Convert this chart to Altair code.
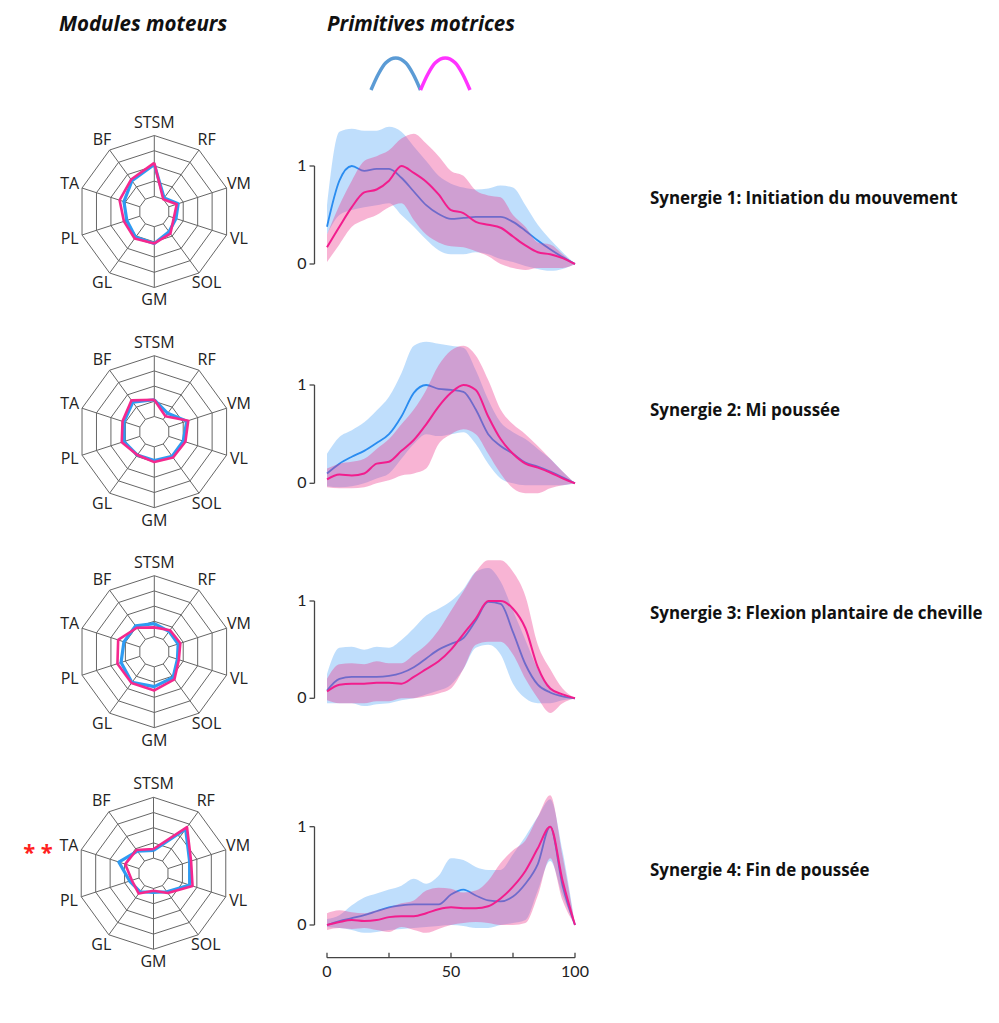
import altair as alt
import pandas as pd

# ---------------- data ----------------
MUSCLES = ["STSM", "RF", "VM", "VL", "SOL", "GM", "GL", "PL", "TA", "BF"]

RADAR_BLUE = [
    [0.62, 0.22, 0.33, 0.30, 0.33, 0.42, 0.42, 0.38, 0.42, 0.50],
    [0.42, 0.30, 0.45, 0.40, 0.40, 0.38, 0.38, 0.42, 0.42, 0.48],
    [0.37, 0.33, 0.33, 0.32, 0.42, 0.46, 0.50, 0.46, 0.42, 0.42],
    [0.30, 0.72, 0.50, 0.50, 0.30, 0.25, 0.30, 0.33, 0.48, 0.36],
]
RADAR_PINK = [
    [0.64, 0.20, 0.31, 0.27, 0.36, 0.42, 0.44, 0.42, 0.48, 0.52],
    [0.42, 0.25, 0.47, 0.43, 0.42, 0.40, 0.38, 0.45, 0.44, 0.51],
    [0.32, 0.35, 0.36, 0.34, 0.45, 0.51, 0.51, 0.51, 0.50, 0.39],
    [0.32, 0.75, 0.52, 0.54, 0.32, 0.23, 0.33, 0.30, 0.39, 0.38],
]
RING_LEVELS = [0.2, 0.4, 0.6, 0.8, 1.0]

T = [0, 5, 10, 15, 20, 25, 30, 35, 40, 45, 50, 55, 60, 65, 70, 75, 80, 85, 90, 95, 100]

BLUE_MEAN = [
    [0.38, 0.85, 1.0, 0.95, 0.97, 0.97, 0.88, 0.74, 0.6, 0.51, 0.46, 0.47, 0.48, 0.48, 0.48, 0.43, 0.34, 0.24, 0.15, 0.07, 0.0],
    [0.1, 0.2, 0.27, 0.33, 0.41, 0.5, 0.68, 0.92, 1.0, 0.96, 0.95, 0.93, 0.75, 0.5, 0.38, 0.3, 0.21, 0.17, 0.12, 0.06, 0.0],
    [0.08, 0.2, 0.22, 0.22, 0.22, 0.23, 0.26, 0.32, 0.41, 0.5, 0.56, 0.62, 0.8, 0.99, 0.97, 0.68, 0.35, 0.14, 0.06, 0.02, 0.0],
    [0.0, 0.04, 0.07, 0.1, 0.14, 0.18, 0.2, 0.21, 0.21, 0.21, 0.31, 0.36, 0.3, 0.25, 0.24, 0.29, 0.42, 0.62, 1.0, 0.4, 0.0],
]
BLUE_HI = [
    [0.6, 1.35, 1.38, 1.36, 1.36, 1.4, 1.35, 1.2, 1.05, 0.9, 0.82, 0.78, 0.76, 0.77, 0.8, 0.78, 0.6, 0.4, 0.25, 0.12, 0.0],
    [0.3, 0.47, 0.54, 0.62, 0.74, 0.88, 1.12, 1.4, 1.44, 1.42, 1.4, 1.38, 1.15, 0.85, 0.62, 0.52, 0.45, 0.35, 0.25, 0.12, 0.0],
    [0.25, 0.52, 0.53, 0.5, 0.53, 0.52, 0.6, 0.72, 0.85, 0.92, 1.0, 1.12, 1.3, 1.34, 1.2, 0.9, 0.6, 0.3, 0.12, 0.03, 0.0],
    [0.06, 0.1, 0.2, 0.28, 0.32, 0.36, 0.4, 0.47, 0.42, 0.5, 0.68, 0.66, 0.59, 0.56, 0.56, 0.72, 0.9, 1.1, 1.28, 0.75, 0.0],
]
BLUE_LO = [
    [0.3, 0.5, 0.55, 0.58, 0.6, 0.62, 0.5, 0.38, 0.25, 0.14, 0.1, 0.1, 0.12, 0.1, 0.05, 0.02, -0.02, -0.05, -0.07, -0.05, 0.0],
    [-0.03, -0.04, -0.03, 0.0, 0.05, 0.1, 0.25, 0.4, 0.5, 0.48, 0.5, 0.52, 0.4, 0.2, 0.05, 0.0, -0.02, -0.02, -0.02, -0.02, 0.0],
    [-0.05, -0.05, -0.05, -0.08, -0.06, -0.05, -0.02, 0.0, 0.04, 0.08, 0.14, 0.3, 0.52, 0.55, 0.45, 0.15, 0.0, -0.05, -0.05, -0.02, 0.0],
    [-0.02, -0.03, -0.05, -0.08, -0.07, -0.05, -0.04, -0.03, -0.02, -0.01, 0.0, -0.01, -0.03, -0.03, 0.0, 0.02, 0.05, 0.35, 0.65, 0.3, 0.0],
]
PINK_MEAN = [
    [0.17, 0.38, 0.58, 0.73, 0.76, 0.85, 1.0, 0.93, 0.84, 0.71, 0.55, 0.52, 0.43, 0.4, 0.37, 0.28, 0.19, 0.12, 0.1, 0.06, 0.0],
    [0.04, 0.09, 0.08, 0.1, 0.2, 0.22, 0.33, 0.44, 0.6, 0.78, 0.92, 1.0, 0.95, 0.68, 0.45, 0.3, 0.2, 0.16, 0.11, 0.05, 0.0],
    [0.07, 0.14, 0.15, 0.15, 0.16, 0.16, 0.15, 0.22, 0.3, 0.38, 0.5, 0.66, 0.82, 1.0, 1.0, 0.92, 0.72, 0.32, 0.1, 0.04, 0.0],
    [0.0, 0.03, 0.05, 0.04, 0.05, 0.08, 0.09, 0.09, 0.12, 0.16, 0.18, 0.17, 0.17, 0.19, 0.27, 0.39, 0.55, 0.78, 1.0, 0.45, 0.0],
]
PINK_HI = [
    [0.3, 0.6, 0.85, 1.05, 1.1, 1.16, 1.28, 1.33, 1.23, 1.1, 0.95, 0.9, 0.75, 0.7, 0.68, 0.5, 0.38, 0.22, 0.2, 0.1, 0.0],
    [0.15, 0.2, 0.22, 0.25, 0.35, 0.45, 0.6, 0.75, 0.95, 1.2, 1.35, 1.4, 1.3, 1.05, 0.75, 0.6, 0.5, 0.38, 0.25, 0.12, 0.0],
    [0.2, 0.35, 0.36, 0.35, 0.38, 0.36, 0.36, 0.45, 0.55, 0.7, 0.9, 1.1, 1.3, 1.42, 1.42, 1.3, 1.05, 0.55, 0.3, 0.1, 0.0],
    [0.12, 0.15, 0.13, 0.12, 0.15, 0.18, 0.22, 0.25, 0.35, 0.38, 0.37, 0.33, 0.35, 0.45, 0.63, 0.76, 0.86, 1.1, 1.32, 0.7, 0.0],
]
PINK_LO = [
    [0.02, 0.2, 0.38, 0.45, 0.5, 0.58, 0.62, 0.45, 0.3, 0.22, 0.18, 0.17, 0.13, 0.08, 0.0, -0.04, -0.06, -0.04, -0.04, -0.04, 0.0],
    [-0.04, -0.05, -0.05, -0.04, 0.0, 0.03, 0.08, 0.1, 0.15, 0.4, 0.5, 0.55, 0.5, 0.3, 0.1, -0.05, -0.1, -0.1, -0.05, -0.02, 0.0],
    [-0.02, -0.05, -0.05, -0.05, -0.03, -0.03, 0.0, 0.0, 0.02, 0.05, 0.1, 0.3, 0.55, 0.58, 0.58, 0.45, 0.2, 0.0, -0.15, -0.05, 0.0],
    [-0.05, -0.03, -0.04, -0.03, -0.05, -0.07, -0.02, -0.05, -0.08, -0.04, 0.0, 0.02, 0.03, 0.02, 0.0, 0.0, 0.02, 0.3, 0.68, 0.25, 0.0],
]

SYN_LABELS = [
    "Synergie 1: Initiation du mouvement",
    "Synergie 2: Mi poussée",
    "Synergie 3: Flexion plantaire de cheville",
    "Synergie 4: Fin de poussée",
]
X_TICKS = [0, 25, 50, 75, 100]
X_TICK_LABELS = [0, 50, 100]
Y_TICK_LABELS = [0, 1]

LEGEND_ARC_X = [0.0, 0.15, 0.3, 0.5, 0.7, 0.85, 1.0]
LEGEND_ARC_Y = [0.0, 0.5, 0.85, 1.0, 0.85, 0.5, 0.0]

# ---------------- layout / style ----------------
W, H = 983, 1000
RADAR_CX = [146.3, 146.3, 146.3, 145.5]
RADAR_CY = [203.5, 423.7, 643.7, 865.3]
RADAR_R = 76
LABEL_R = 1.17
LX0, LX1 = 319, 567
Y0 = [256, 475.3, 690.3, 917]
Y1 = [158, 377, 593, 818.7]
BRACKET_X = 306.5
SYN_Y = [191, 403, 606, 863]
SYN_X = 642
XAXIS_Y = 949.7

GRID = "#666666"
BLUE_LINE = "#2a8cf0"
PINK_LINE = "#f21d8d"
BLUE_FILL = "#3d9cf5"
PINK_FILL = "#eb2f88"
RADAR_BLUE_C = "#2e9bf2"
RADAR_PINK_C = "#f5288e"
FONT = "Open Sans"
NUMFONT = "Lato"
TXT = "#222222"


def lin(domain, rng):
    return alt.Scale(domain=domain, range=rng, nice=False, zero=False)


def radar_layers(k):
    cx, cy, R = RADAR_CX[k], RADAR_CY[k], RADAR_R
    xs = lin([-1, 1], [cx - R, cx + R])
    ys = lin([-1, 1], [cy + R, cy - R])
    X = alt.X("px:Q", scale=xs, axis=None)
    Y = alt.Y("py:Q", scale=ys, axis=None)
    ang = "datum.i*2*PI/10"

    rings = pd.DataFrame([{"ring": r, "i": i} for r in RING_LEVELS for i in range(11)])
    ring_layer = (
        alt.Chart(rings)
        .transform_calculate(px=f"datum.ring*sin({ang})", py=f"datum.ring*cos({ang})")
        .mark_line(color=GRID, strokeWidth=1)
        .encode(x=X, y=Y, detail="ring:N", order=alt.Order("i:Q"))
    )
    spokes = pd.DataFrame({"i": list(range(10))})
    spoke_layer = (
        alt.Chart(spokes)
        .transform_calculate(
            px=f"{RING_LEVELS[0]}*sin({ang})", py=f"{RING_LEVELS[0]}*cos({ang})",
            px2=f"sin({ang})", py2=f"cos({ang})",
        )
        .mark_rule(color=GRID, strokeWidth=1)
        .encode(x=X, y=Y, x2="px2:Q", y2="py2:Q")
    )
    labs = pd.DataFrame({"i": list(range(10)), "m": MUSCLES})
    label_layer = (
        alt.Chart(labs)
        .transform_calculate(px=f"{LABEL_R}*sin({ang})", py=f"{LABEL_R}*cos({ang})")
        .mark_text(font=FONT, fontSize=16, color=TXT, align="center", baseline="middle")
        .encode(x=X, y=Y, text="m:N")
    )
    out = [ring_layer, spoke_layer, label_layer]
    for vals, col, sw in ((RADAR_BLUE[k], RADAR_BLUE_C, 3.2), (RADAR_PINK[k], RADAR_PINK_C, 2.6)):
        d = pd.DataFrame({"i": list(range(11)), "v": vals + [vals[0]]})
        out.append(
            alt.Chart(d)
            .transform_calculate(px=f"datum.v*sin({ang})", py=f"datum.v*cos({ang})")
            .mark_line(color=col, strokeWidth=sw, strokeJoin="round")
            .encode(x=X, y=Y, order=alt.Order("i:Q"))
        )
    return out


def prim_layers(k):
    xs = lin([0, 100], [LX0, LX1])
    ys = lin([0, 1], [Y0[k], Y1[k]])
    df = pd.DataFrame({
        "t": T,
        "bm": BLUE_MEAN[k], "bh": BLUE_HI[k], "bl": BLUE_LO[k],
        "pm": PINK_MEAN[k], "ph": PINK_HI[k], "pl": PINK_LO[k],
    })
    base = alt.Chart(df)
    X = alt.X("t:Q", scale=xs, axis=None)
    out = [
        base.mark_area(interpolate="monotone", color=BLUE_FILL, opacity=0.33).encode(
            x=X, y=alt.Y("bl:Q", scale=ys, axis=None), y2="bh:Q"),
        base.mark_line(interpolate="monotone", color=BLUE_LINE, strokeWidth=1.8).encode(
            x=X, y=alt.Y("bm:Q", scale=ys, axis=None)),
        base.mark_area(interpolate="monotone", color=PINK_FILL, opacity=0.36).encode(
            x=X, y=alt.Y("pl:Q", scale=ys, axis=None), y2="ph:Q"),
        base.mark_line(interpolate="monotone", color=PINK_LINE, strokeWidth=2).encode(
            x=X, y=alt.Y("pm:Q", scale=ys, axis=None)),
    ]
    # y "bracket" axis from 0 to 1
    out.append(
        alt.Chart(pd.DataFrame({"a": [0], "b": [1]}))
        .mark_rule(color="#444444", strokeWidth=1.3)
        .encode(x=alt.value(BRACKET_X), y=alt.Y("a:Q", scale=ys, axis=None), y2="b:Q")
    )
    yt = pd.DataFrame({"v": Y_TICK_LABELS})
    out.append(
        alt.Chart(yt).mark_rule(color="#444444", strokeWidth=1.3)
        .encode(x=alt.value(BRACKET_X - 5), x2=alt.value(BRACKET_X), y=alt.Y("v:Q", scale=ys, axis=None))
    )
    out.append(
        alt.Chart(yt).mark_text(font=NUMFONT, fontSize=16, color=TXT, align="right", baseline="middle")
        .encode(x=alt.value(BRACKET_X - 8), y=alt.Y("v:Q", scale=ys, axis=None), text="v:Q")
    )
    if k == 3:
        out.append(
            alt.Chart(pd.DataFrame({"a": [0], "b": [100]}))
            .mark_rule(color="#444444", strokeWidth=1.3)
            .encode(x=alt.X("a:Q", scale=xs, axis=None), x2="b:Q", y=alt.value(XAXIS_Y))
        )
        out.append(
            alt.Chart(pd.DataFrame({"t": X_TICKS})).mark_rule(color="#444444", strokeWidth=1.3)
            .encode(x=alt.X("t:Q", scale=xs, axis=None), y=alt.value(XAXIS_Y - 5), y2=alt.value(XAXIS_Y))
        )
        out.append(
            alt.Chart(pd.DataFrame({"t": X_TICK_LABELS}))
            .mark_text(font=NUMFONT, fontSize=16, color=TXT, align="center", baseline="middle")
            .encode(x=alt.X("t:Q", scale=xs, axis=None), y=alt.value(XAXIS_Y + 14), text="t:Q")
        )
    out.append(
        alt.Chart(pd.DataFrame({"s": [SYN_LABELS[k]]}))
        .mark_text(font=FONT, fontSize=16.9, fontWeight="bold", color="#111111", align="left", baseline="middle")
        .encode(x=alt.value(SYN_X), y=alt.value(SYN_Y[k]), text="s:N")
    )
    return out


layers = []
# headers
for txt, xc in (("Modules moteurs", 135), ("Primitives motrices", 413)):
    layers.append(
        alt.Chart(pd.DataFrame({"s": [txt]}))
        .mark_text(font=FONT, fontSize=20.5, fontWeight="bold", fontStyle="italic", color="#111111",
                   align="center", baseline="middle")
        .encode(x=alt.value(xc), y=alt.value(17), text="s:N")
    )
# legend arcs
arc_xs = lin([0, 2], [363, 462])
arc_ys = lin([0, 1], [82, 50])
for off, col in ((0, "#5b9bd5"), (1, "#ff33ff")):
    d = pd.DataFrame({"x": [v + off for v in LEGEND_ARC_X], "y": LEGEND_ARC_Y})
    layers.append(
        alt.Chart(d).mark_line(interpolate="monotone", color=col, strokeWidth=3.5)
        .encode(x=alt.X("x:Q", scale=arc_xs, axis=None), y=alt.Y("y:Q", scale=arc_ys, axis=None))
    )

for k in range(4):
    layers.extend(radar_layers(k))
    layers.extend(prim_layers(k))

# significance marker next to TA (row 4)
layers.append(
    alt.Chart(pd.DataFrame({"s": ["* *"]}))
    .mark_text(font=FONT, fontSize=22, fontWeight="bold", color="#ff2020", align="center", baseline="middle")
    .encode(x=alt.value(30), y=alt.value(845), text="s:N")
)

chart = (
    alt.layer(*layers)
    .resolve_scale(x="independent", y="independent")
    .properties(width=W, height=H, autosize="none", padding=0)
    .configure_view(stroke=None)
)

chart.save("out.html", embed_options={"renderer": "svg", "actions": False})
